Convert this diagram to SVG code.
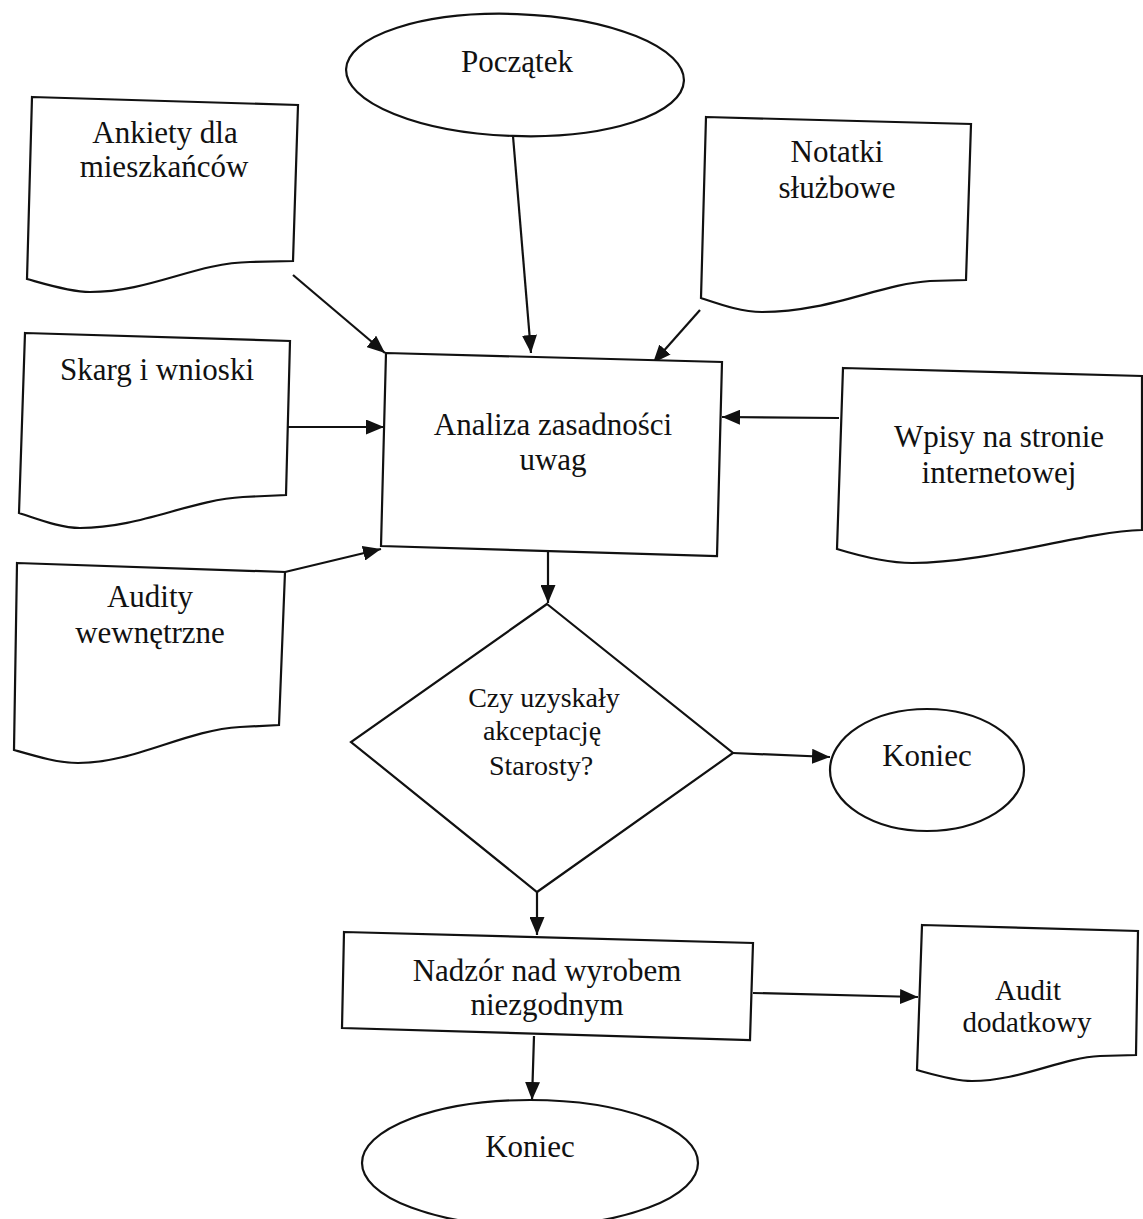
<svg xmlns="http://www.w3.org/2000/svg" width="1143" height="1219" viewBox="0 0 1143 1219">
<style>
.shape{fill:#fff;stroke:#111;stroke-width:2.2;stroke-linejoin:miter}
.t{font-family:"Liberation Serif","Times New Roman",serif;fill:#111;text-anchor:middle}
.f31{font-size:31px}
.f29{font-size:29px}
.f28{font-size:28px}
.conn{fill:none;stroke:#111;stroke-width:2.2;marker-end:url(#arrow)}
</style>
<defs>
<marker id="arrow" markerUnits="userSpaceOnUse" markerWidth="19" markerHeight="15" viewBox="0 0 19 15" refX="18" refY="7.5" orient="auto">
<path d="M0,0 L18,7.5 L0,15 Z" fill="#111"/>
</marker>
</defs>
<rect width="1143" height="1219" fill="#fff"/>

<g id="connectors">
<path class="conn" d="M513,136 L531,353"/>
<path class="conn" d="M293,275 L385,353"/>
<path class="conn" d="M700,310 L653,363"/>
<path class="conn" d="M288,427 L384,427"/>
<path class="conn" d="M839,418 L722,417"/>
<path class="conn" d="M285,572 L381,549"/>
<path class="conn" d="M548,552 L548,603"/>
<path class="conn" d="M733,753 L830,757"/>
<path class="conn" d="M537,892 L537,935"/>
<path class="conn" d="M753,993 L918,997"/>
<path class="conn" d="M534,1036 L532,1100"/>
</g>

<g id="poczatek">
<ellipse class="shape" cx="515" cy="75" rx="169" ry="61" transform="rotate(2 515 75)"/>
<text class="t f31" x="517" y="72">Początek</text>
</g>

<g id="ankiety">
<path class="shape" d="M32,97 L298,105 L293,261 L250,262 C195,263 150,292 90,292 C70,292 45,284 27,279 Z"/>
<text class="t f31" x="165" y="143">Ankiety dla</text>
<text class="t f31" x="164" y="177">mieszkańców</text>
</g>

<g id="notatki">
<path class="shape" d="M706,117 L971,124 L966,280 L930,281 C880,284 830,312 762,312 C742,312 722,305 701,298 Z"/>
<text class="t f31" x="837" y="162">Notatki</text>
<text class="t f31" x="837" y="198">służbowe</text>
</g>

<g id="skarg">
<path class="shape" d="M25,333 L290,341 L286,495 L243,497 C190,500 140,528 80,528 C60,528 38,519 19,513 Z"/>
<text class="t f31" x="157" y="380">Skarg i wnioski</text>
</g>

<g id="analiza">
<path class="shape" d="M386,353 L722,362 L717,556 L381,546 Z"/>
<text class="t f31" x="553" y="435">Analiza zasadności</text>
<text class="t f31" x="553" y="470">uwag</text>
</g>

<g id="wpisy">
<path class="shape" d="M843,368 L1142,376 L1142,530 C1080,532 990,563 912,563 C890,563 860,556 837,549 Z"/>
<text class="t f31" x="999" y="447">Wpisy na stronie</text>
<text class="t f31" x="999" y="483">internetowej</text>
</g>

<g id="audity">
<path class="shape" d="M17,563 L285,572 L279,725 L240,727 C185,730 135,763 78,763 C58,763 35,756 14,750 Z"/>
<text class="t f31" x="150" y="607">Audity</text>
<text class="t f31" x="150" y="643">wewnętrzne</text>
</g>

<g id="decyzja">
<path class="shape" d="M547,604 L733,753 L537,892 L351,742 Z"/>
<text class="t f28" x="544" y="707">Czy uzyskały</text>
<text class="t f28" x="542" y="740">akceptację</text>
<text class="t f28" x="541" y="775">Starosty?</text>
</g>

<g id="koniec1">
<ellipse class="shape" cx="927" cy="770" rx="97" ry="61"/>
<text class="t f31" x="927" y="766">Koniec</text>
</g>

<g id="nadzor">
<path class="shape" d="M344,932 L753,943 L750,1040 L342,1028 Z"/>
<text class="t f31" x="547" y="981">Nadzór nad wyrobem</text>
<text class="t f31" x="547" y="1015">niezgodnym</text>
</g>

<g id="audit-dodatkowy">
<path class="shape" d="M922,925 L1138,931 L1136,1055 L1100,1056 C1060,1058 1020,1081 972,1081 C955,1081 935,1075 917,1070 Z"/>
<text class="t f29" x="1028" y="1000">Audit</text>
<text class="t f29" x="1027" y="1032">dodatkowy</text>
</g>

<g id="koniec2">
<ellipse class="shape" cx="530" cy="1163" rx="168" ry="63"/>
<text class="t f31" x="530" y="1157">Koniec</text>
</g>
</svg>
